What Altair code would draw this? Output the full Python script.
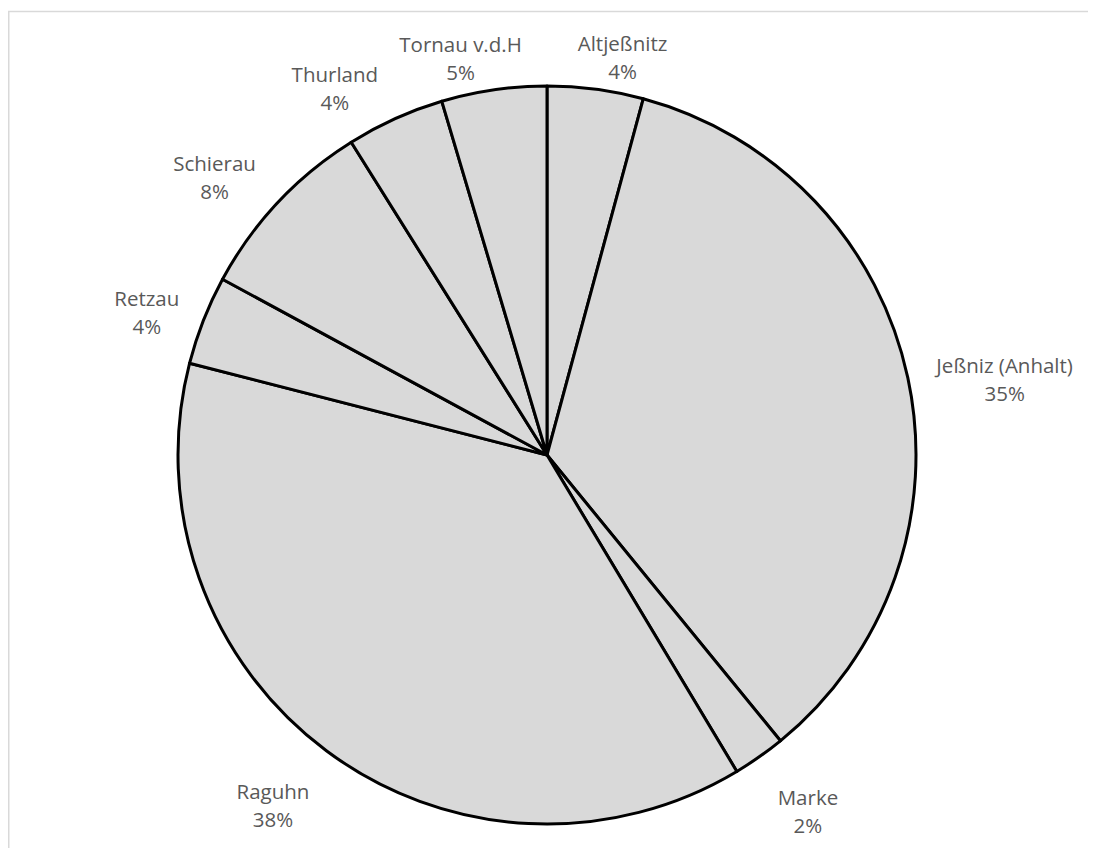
import altair as alt
import pandas as pd

names = ["Altjeßnitz", "Jeßniz (Anhalt)", "Marke", "Raguhn", "Retzau",
         "Schierau", "Thurland", "Tornau v.d.H"]
values = [4.2, 34.9, 2.3, 37.6, 3.9, 8.2, 4.3, 4.6]
order = list(range(len(names)))

df = pd.DataFrame({"name": names, "value": values, "idx": order})

CX, CY, R = 539, 447, 369
W, H = 1080, 840
R0 = R + 10

base = alt.Chart(df)

pie = base.mark_arc(stroke="black", strokeWidth=3, fill="#d9d9d9",
                    strokeJoin="round").encode(
    theta=alt.Theta("value:Q", stack=True),
    order=alt.Order("idx:Q"),
    x=alt.value(CX), y=alt.value(CY),
    radius=alt.value(R),
)

labels = base.transform_window(
    cum="sum(value)", sort=[alt.SortField("idx")]
).transform_joinaggregate(
    total="sum(value)"
).transform_calculate(
    mid="(datum.cum - datum.value/2) / datum.total * 2 * PI",
    pct="round(datum.value / datum.total * 100) + '%'",
    tw="length(datum.name) * 8.8 + 12",
).transform_calculate(
    lx=f"{CX} + {R0} * sin(datum.mid) + (datum.tw / 2 + 15) * clamp(3 * sin(datum.mid), -1, 1)",
    ly=f"{CY} - {R0} * cos(datum.mid) - 34 * clamp(1.3 * cos(datum.mid), -1, 1)",
    label="[datum.name, datum.pct]",
).mark_text(
    font="Open Sans", fontSize=20.5, color="#595959", lineHeight=28,
    align="center", baseline="middle",
).encode(
    x=alt.X("lx:Q", scale=None),
    y=alt.Y("ly:Q", scale=None),
    text="label:N",
)

bdf = pd.DataFrame({"a": [0]})
top_rule = alt.Chart(bdf).mark_rule(color="#d9d9d9", strokeWidth=1.5).encode(
    x=alt.value(0), x2=alt.value(W), y=alt.value(3.5))
left_rule = alt.Chart(bdf).mark_rule(color="#d9d9d9", strokeWidth=1.5).encode(
    x=alt.value(0.75), y=alt.value(3), y2=alt.value(H))

chart = alt.layer(top_rule, left_rule, pie, labels).properties(
    width=W, height=H, padding=0, autosize="none",
    background="white",
).configure_view(stroke=None)

chart.save("out.html", embed_options={"renderer": "svg", "actions": False})
